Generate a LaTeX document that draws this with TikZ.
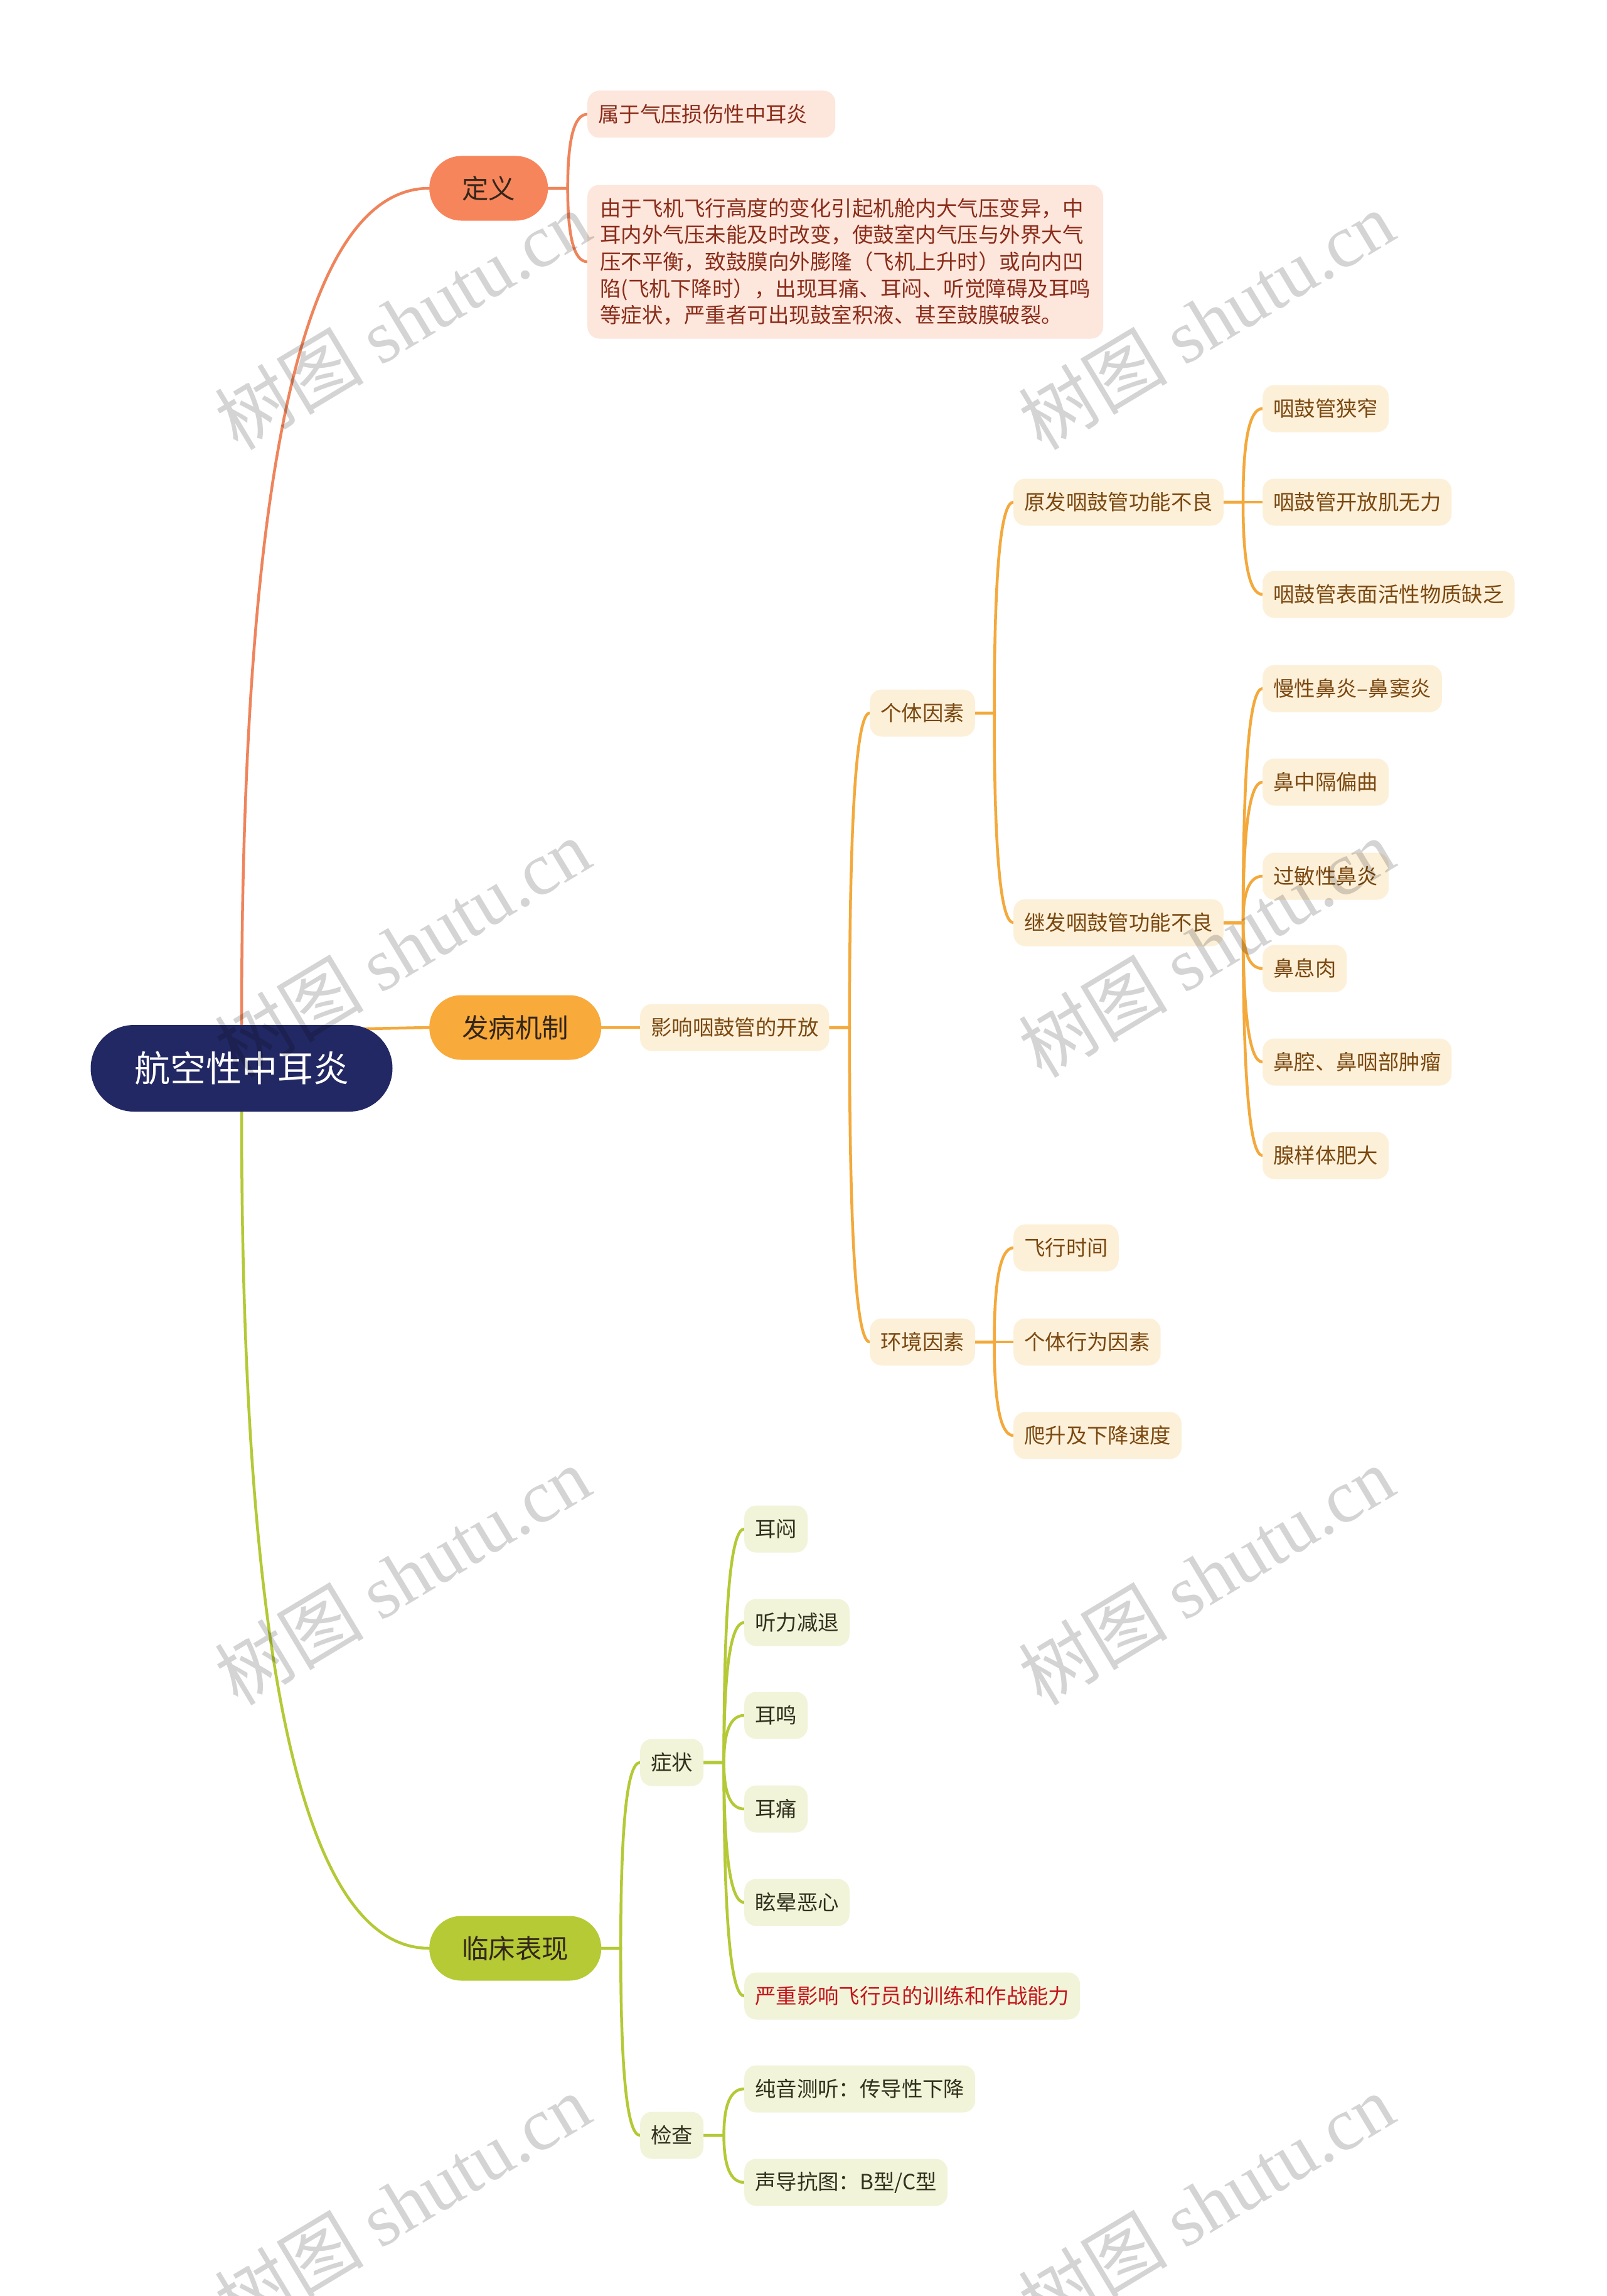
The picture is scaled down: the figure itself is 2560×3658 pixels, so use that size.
\documentclass[tikz,border=0pt]{standalone}
\usepackage{fontspec}
\setmainfont{Noto Sans CJK SC}
\newfontfamily\wmserif{Liberation Serif}
\usetikzlibrary{calc}
\definecolor{rootc}{HTML}{222863}
\definecolor{dc}{HTML}{F7855B}
\definecolor{dfill}{HTML}{FDE6DC}
\definecolor{dtext}{HTML}{8A2C1A}
\definecolor{dline}{HTML}{EF845C}
\definecolor{fc}{HTML}{F8AA3B}
\definecolor{ffill}{HTML}{FDF0D9}
\definecolor{ftext}{HTML}{7A4810}
\definecolor{fline}{HTML}{F3A93B}
\definecolor{lc}{HTML}{B5CA34}
\definecolor{lfill}{HTML}{F1F4D9}
\definecolor{ltext}{HTML}{30301C}
\definecolor{lred}{HTML}{C4161C}
\definecolor{lline}{HTML}{B4C935}
\definecolor{lonetext}{HTML}{33261A}
\pgfdeclarelayer{back}
\pgfdeclarelayer{lines}
\pgfdeclarelayer{front}
\pgfsetlayers{back,lines,main,front}

% quadratic-looking curve from #2 to #3 bending round the corner (#2 |- #3)
\newcommand\qlink[3]{%
  \path (#2 |- #3) coordinate (qc);
  \draw[#1] (#2) .. controls ($(#2)!0.6667!(qc)$) and ($(#3)!0.6667!(qc)$) .. (#3);}
% parent -> child: short stub to the bus, then curve into the child
\newcommand\kid[3]{%
  \path ($(#2.east)!0.5!(#2.east -| #3.west)$) coordinate (bus);
  \path (bus |- #3.west) coordinate (cnr);
  \draw[#1] (#2.east) -- (bus) .. controls ($(bus)!0.6667!(cnr)$) and ($(#3.west)!0.6667!(cnr)$) .. (#3.west);}

\tikzset{
  rootnode/.style={fill=rootc, text=white, rounded corners=69, minimum width=481,
    minimum height=138, inner sep=0, font=\fontsize{57}{68}\selectfont},
  lone/.style={rounded corners=51, minimum height=103, inner xsep=52, inner ysep=0,
    anchor=west, text=lonetext, font=\fontsize{42.5}{50}\selectfont},
  ltwo/.style={rounded corners=19, minimum height=75, inner xsep=17, inner ysep=0,
    anchor=west, font=\fontsize{33.4}{40}\selectfont},
  dnode/.style={ltwo, fill=dfill, text=dtext},
  fnode/.style={ltwo, fill=ffill, text=ftext},
  lnode/.style={ltwo, fill=lfill, text=ltext},
  dlink/.style={draw=dline, line width=4.5, line cap=round},
  flink/.style={draw=fline, line width=4.5, line cap=round},
  llink/.style={draw=lline, line width=4.5, line cap=round},
  wm/.style={text=black, opacity=0.17, rotate=31, inner sep=0,
    font=\fontsize{119}{130}\selectfont}
}

\begin{document}
\begin{tikzpicture}[x=1pt, y=-1pt]
\useasboundingbox (0,0) rectangle (2560,3658);
\begin{pgfonlayer}{back}
  \fill[white] (0,0) rectangle (2560,3658);
\end{pgfonlayer}

% ---------- nodes ----------
\node[rootnode] (root) at (385,1702) {航空性中耳炎};

\node[lone, fill=dc] (def) at (684,300) {定义};
\node[lone, fill=fc] (fa) at (684,1637) {发病机制};
\node[lone, fill=lc] (lin) at (684,3104) {临床表现};

% definition
\node[dnode, text width=361, align=left] (d1) at (936,182) {属于气压损伤性中耳炎};
\node[dnode, align=left, inner xsep=20, minimum height=245,
      font=\fontsize{33.5}{42.7}\selectfont] (d2) at (936,417)
  {由于飞机飞行高度的变化引起机舱内大气压变异，中\\
   耳内外气压未能及时改变，使鼓室内气压与外界大气\\
   压不平衡，致鼓膜向外膨隆（飞机上升时）或向内凹\\
   陷(飞机下降时），出现耳痛、耳闷、听觉障碍及耳鸣\\
   等症状，严重者可出现鼓室积液、甚至鼓膜破裂。};

% pathogenesis
\node[fnode] (ying) at (1020,1637) {影响咽鼓管的开放};
\node[fnode] (geti) at (1386,1136) {个体因素};
\node[fnode] (huan) at (1386,2138) {环境因素};
\node[fnode] (yuan) at (1615,800) {原发咽鼓管功能不良};
\node[fnode] (jifa) at (1615,1470) {继发咽鼓管功能不良};
\node[fnode] (a1) at (2012,651) {咽鼓管狭窄};
\node[fnode] (a2) at (2012,800) {咽鼓管开放肌无力};
\node[fnode] (a3) at (2012,947) {咽鼓管表面活性物质缺乏};
\node[fnode] (b1) at (2012,1097) {慢性鼻炎–鼻窦炎};
\node[fnode] (b2) at (2012,1246) {鼻中隔偏曲};
\node[fnode] (b3) at (2012,1396) {过敏性鼻炎};
\node[fnode] (b4) at (2012,1543) {鼻息肉};
\node[fnode] (b5) at (2012,1692) {鼻腔、鼻咽部肿瘤};
\node[fnode] (b6) at (2012,1841) {腺样体肥大};
\node[fnode] (c1) at (1615,1988) {飞行时间};
\node[fnode] (c2) at (1615,2138) {个体行为因素};
\node[fnode] (c3) at (1615,2287) {爬升及下降速度};

% clinical
\node[lnode] (zz) at (1020,2808) {症状};
\node[lnode] (jc) at (1020,3402) {检查};
\node[lnode] (s1) at (1186,2436) {耳闷};
\node[lnode] (s2) at (1186,2585) {听力减退};
\node[lnode] (s3) at (1186,2733) {耳鸣};
\node[lnode] (s4) at (1186,2882) {耳痛};
\node[lnode] (s5) at (1186,3031) {眩晕恶心};
\node[lnode, text=lred] (s6) at (1186,3180) {严重影响飞行员的训练和作战能力};
\node[lnode] (e1) at (1186,3328) {纯音测听：传导性下降};
\node[lnode] (e2) at (1186,3477) {声导抗图：B型/C型};

% ---------- connectors ----------
\begin{pgfonlayer}{lines}
  \qlink{dlink}{root.north}{def.west}
  \qlink{llink}{root.south}{lin.west}
  \draw[flink] (fa.west) -- ($(fa.west -| root.center)+(0,6)$);

  \kid{dlink}{def}{d1}
  \kid{dlink}{def}{d2}

  \draw[flink] (fa.east) -- (ying.west);
  \kid{flink}{ying}{geti}
  \kid{flink}{ying}{huan}
  \kid{flink}{geti}{yuan}
  \kid{flink}{geti}{jifa}
  \foreach \k in {a1,a2,a3} {\kid{flink}{yuan}{\k}}
  \foreach \k in {b1,b2,b3,b4,b5,b6} {\kid{flink}{jifa}{\k}}
  \foreach \k in {c1,c2,c3} {\kid{flink}{huan}{\k}}

  \kid{llink}{lin}{zz}
  \kid{llink}{lin}{jc}
  \foreach \k in {s1,s2,s3,s4,s5,s6} {\kid{llink}{zz}{\k}}
  \foreach \k in {e1,e2} {\kid{llink}{jc}{\k}}
\end{pgfonlayer}

% ---------- watermark ----------
\begin{pgfonlayer}{front}
  \foreach \wy [count=\i] in {510,1510,2510,3510} {
    \node[wm] (wma\i) at (641,\wy) {树图 {\wmserif shutu.cn}};
    \node[wm] (wmb\i) at (1922,\wy) {树图 {\wmserif shutu.cn}};
  }
\end{pgfonlayer}
\end{tikzpicture}
\end{document}
